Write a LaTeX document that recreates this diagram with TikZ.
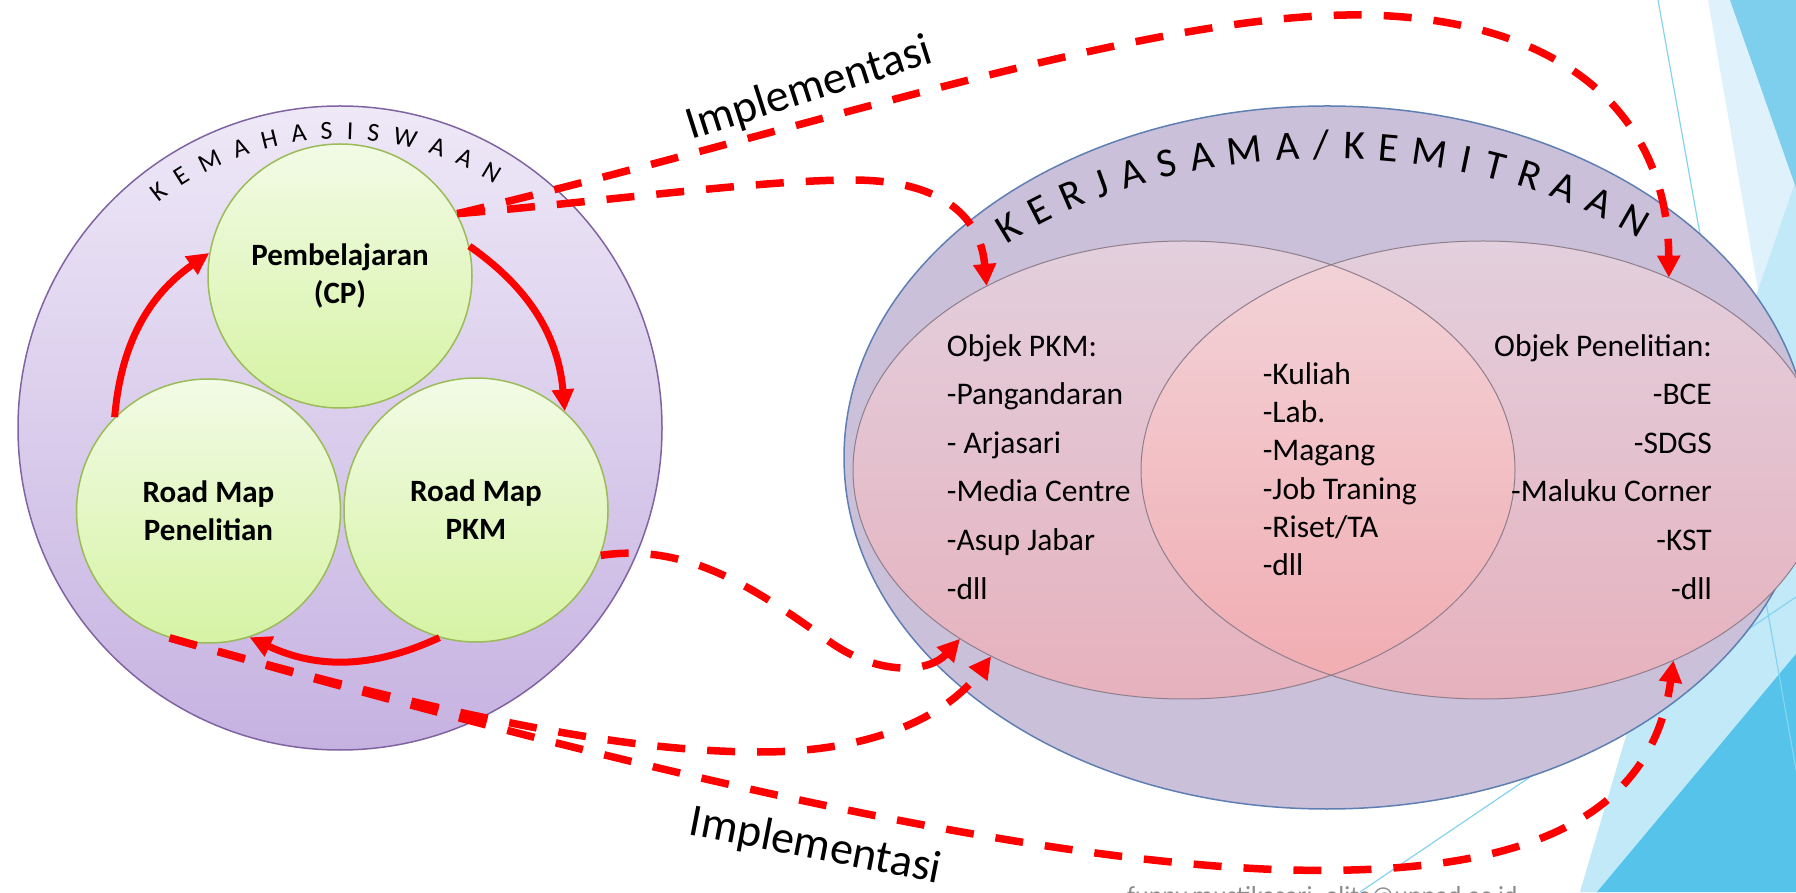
\documentclass[tikz,border=0pt]{standalone}
\usepackage{fontspec}
\setmainfont{Carlito}
\usetikzlibrary{shapes.geometric,arrows.meta}

\definecolor{kemBorder}{HTML}{8064A2}
\definecolor{kemTop}{HTML}{EEE8F7}
\definecolor{kemBot}{HTML}{C6B2E1}
\definecolor{greenTop}{HTML}{F2FBE6}
\definecolor{greenBot}{HTML}{D6F3A4}
\definecolor{greenLine}{HTML}{9BBB59}
\definecolor{kerFill}{HTML}{CAC0D9}
\definecolor{kerLine}{HTML}{5F7FB3}
\definecolor{vennTop}{HTML}{E3CFDD}
\definecolor{vennBot}{HTML}{E6B1BD}
\definecolor{lensTop}{HTML}{F2D4D9}
\definecolor{lensBot}{HTML}{F1ABB0}
\definecolor{vennLine}{HTML}{8F7F8C}
\definecolor{faintBlue}{HTML}{DFF2FB}
\definecolor{lightBlue}{HTML}{C2E9F8}
\definecolor{midBlue}{HTML}{7ECFEE}
\definecolor{deepBlue}{HTML}{55C3EA}
\definecolor{thinBlue}{HTML}{86D3F0}
\definecolor{mailGrey}{HTML}{8C8C8C}
\definecolor{arrowRed}{HTML}{FF0000}

\begin{document}
\begin{tikzpicture}[x=1pt, y=1pt,
  green circle/.style={circle, draw=greenLine, line width=1.5pt,
    top color=greenTop, bottom color=greenBot, minimum size=264pt,
    inner sep=0pt, align=center, font=\fontsize{31}{38}\selectfont\bfseries},
  loop arrow/.style={draw=arrowRed, line width=7pt,
    -{Triangle[length=22pt,width=21pt]}},
  impl arrow/.style={draw=arrowRed, line width=7.5pt,
    dash pattern=on 28pt off 22pt, -{Triangle[length=22pt,width=22pt]}},
  venn set/.style={ellipse, minimum height=458pt, inner sep=0pt,
    top color=vennTop, bottom color=vennBot},
  venn rim/.style={vennLine, line width=1pt},
  list item/.style={font=\fontsize{31.5}{38}\selectfont, inner sep=0pt},
  impl label/.style={font=\fontsize{46}{46}\selectfont, inner sep=0pt, anchor=base},
  small arc letter/.style={anchor=base, inner sep=0pt, font=\fontsize{26}{26}\selectfont},
  big arc letter/.style={anchor=base, inner sep=0pt, font=\fontsize{41}{41}\selectfont},
]
\useasboundingbox (0,0) rectangle (1796,892);

% faceted backdrop on the right edge
\fill[faintBlue] (1708,892) -- (1796,892) -- (1796,0) -- (1580,0) -- (1758,602) -- cycle;
\fill[lightBlue] (1758,602) -- (1796,712) -- (1796,0) -- (1580,0) -- cycle;
\fill[midBlue] (1730,892) -- (1796,892) -- (1796,704) -- cycle;
\fill[deepBlue] (1597,0) -- (1796,238) -- (1796,0) -- cycle;
\draw[thinBlue, line width=1.2pt] (1658,892) -- (1818,0);
\draw[thinBlue, line width=1.2pt] (1360,0) -- (1796,295);

% footer address
\node[anchor=base west, inner sep=0pt, text=mailGrey,
      font=\fontsize{26}{26}\selectfont] (mail) at (1127,-12)
      {funny.mustikasari\_elita@unpad.ac.id};

% ---- KEMAHASISWAAN ----
\node[circle, draw=kemBorder, line width=1.5pt, top color=kemTop,
      bottom color=kemBot, minimum size=644pt, inner sep=0pt] (kem) at (340,464) {};
% letters set one by one along a circle of radius 289 round the centre
\foreach \ch/\a [count=\i] in {K/127.46, E/122.15, M/115.98, A/109.58, H/103.78,
    A/97.97, S/92.59, I/88.05, S/83.51, W/77.32, A/70.83, A/65.14, N/59.27}
  \node[small arc letter, rotate=\a-90] (kemch\i) at ([shift={(\a:289)}]kem.center) {\ch};

\node[green circle] (pem) at (340,616) {Pembelajaran\\(CP)};
\node[green circle] (pen) at (208.5,381) {Road Map\\Penelitian};
\node[green circle] (pkm) at (476,382) {Road Map\\PKM};

\draw[loop arrow] (pen.135) to[bend left=25] (pem.170);
\draw[loop arrow] (pem.13) to[bend left=25] (pkm.48);
\draw[loop arrow] (pkm.254) to[bend left=25] (pen.288);

% ---- KERJASAMA/KEMITRAAN ----
\node[ellipse, draw=kerLine, line width=1.5pt, fill=kerFill,
      minimum width=966pt, minimum height=703pt, inner sep=0pt] (ker) at (1327,434.5) {};
% letters along an ellipse (radii 457 and 299), turned to follow its tangent
\foreach \ch/\t [count=\i] in {K/132.95, E/128.07, R/123.25, J/118.93, A/114.68,
    S/110.08, A/105.63, M/100.22, A/94.90, {/}/90.70, K/86.64, E/82.34, M/77.19,
    I/72.58, T/68.82, R/64.23, A/59.39, A/54.23, N/48.85}
  \node[big arc letter, rotate={atan2(-299*cos(\t),457*sin(\t))}] (kerch\i)
    at ([shift={(\t:457 and 299)}]ker.center) {\ch};

\node[venn set, minimum width=662pt] (pset) at (1184,422) {};
\node[venn set, minimum width=684pt] (rset) at (1483,422) {};
\begin{scope}
  \clip (pset.center) ellipse [x radius=331, y radius=229];
  \shade[top color=lensTop, bottom color=lensBot]
    (rset.center) ellipse [x radius=342, y radius=229];
\end{scope}
\draw[venn rim] (pset.center) ellipse [x radius=331, y radius=229];
\draw[venn rim] (rset.center) ellipse [x radius=342, y radius=229];

\foreach \txt/\yy [count=\i] in {{Objek PKM:}/535, {-Pangandaran}/487,
    {- Arjasari}/438, {-Media Centre}/390, {-Asup Jabar}/341, {-dll}/292.5}
  \node[list item, anchor=base west] (pkmobj\i) at (946.7,\yy) {\txt};
\foreach \txt/\yy [count=\i] in {{-Kuliah}/507.4, {-Lab.}/469, {-Magang}/431,
    {-Job Traning}/392, {-Riset/TA}/354, {-dll}/316.5}
  \node[list item, anchor=base west] (joint\i) at (1262.6,\yy) {\txt};
\foreach \txt/\yy [count=\i] in {{Objek Penelitian:}/535, {-BCE}/487,
    {-SDGS}/438, {-Maluku Corner}/390, {-KST}/341, {-dll}/292.5}
  \node[list item, anchor=base east] (resobj\i) at (1712,\yy) {\txt};

% ---- implementation links ----
\draw[impl arrow] (pem.28) .. controls (800,760) and (1150,880) .. (1363,877)
  .. controls (1560,874) and (1668,780) .. (rset.46);
\draw[impl arrow] (pem.28) .. controls (600,690) and (760,712) .. (852,712)
  .. controls (935,712) and (980,680) .. (pset.137);
\draw[impl arrow] (pkm.340) .. controls (690,350) and (760,300) .. (830,250)
  .. controls (880,215) and (930,220) .. (pset.217);
\draw[impl arrow] (pen.253) .. controls (400,190) and (600,140) .. (760,140)
  .. controls (880,140) and (950,180) .. (pset.224);
\draw[impl arrow] (pen.253) .. controls (560,142) and (1000,30) .. (1290,22)
  .. controls (1500,17) and (1650,60) .. (rset.315);

\node[impl label, rotate=17.7] (implTop) at (813,791) {Implementasi};
\node[impl label, rotate=-11] (implBottom) at (813,33) {Implementasi};
\end{tikzpicture}
\end{document}
